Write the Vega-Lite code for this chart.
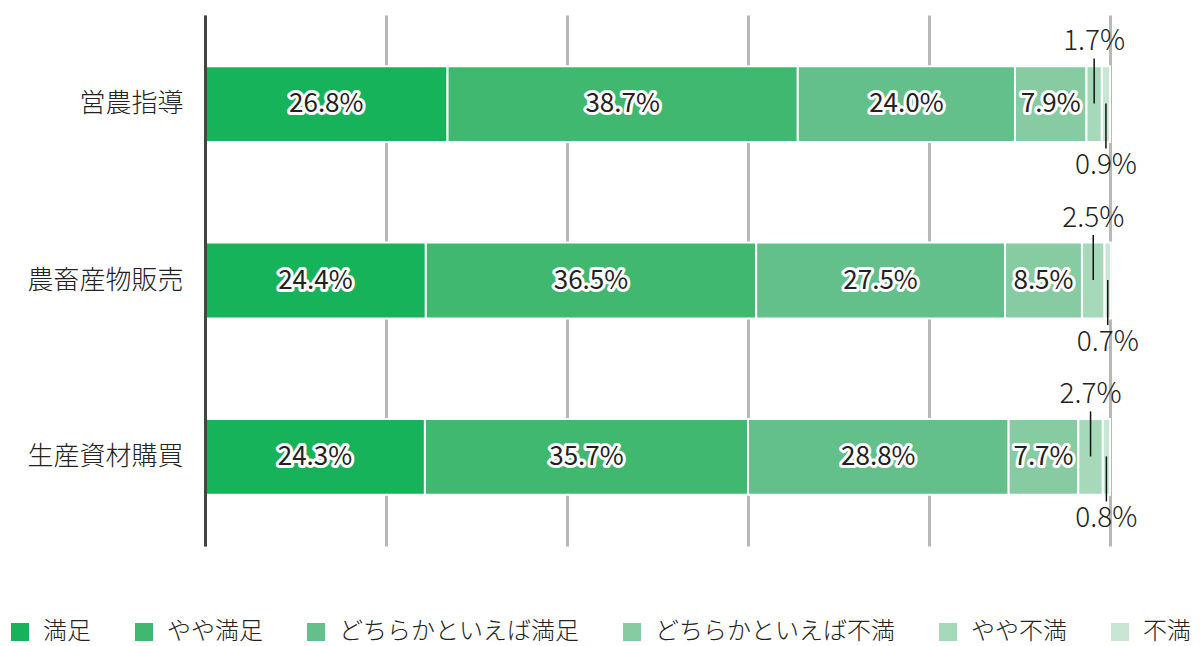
{
  "$schema": "https://vega.github.io/schema/vega-lite/v6.json",
  "autosize": {"type": "none"},
  "padding": {"left": 205, "top": 15, "right": 91, "bottom": 100},
  "width": 905,
  "height": 531,
  "background": "white",
  "config": {
    "view": {"stroke": null},
    "font": "Noto Sans CJK JP"
  },
  "data": {
    "values": [
      {"cat": "営農指導", "type": "満足", "k": 1, "value": 0.268},
      {"cat": "営農指導", "type": "やや満足", "k": 2, "value": 0.387},
      {"cat": "営農指導", "type": "どちらかといえば満足", "k": 3, "value": 0.240},
      {"cat": "営農指導", "type": "どちらかといえば不満", "k": 4, "value": 0.079},
      {"cat": "営農指導", "type": "やや不満", "k": 5, "value": 0.017},
      {"cat": "営農指導", "type": "不満", "k": 6, "value": 0.009},
      {"cat": "農畜産物販売", "type": "満足", "k": 1, "value": 0.244},
      {"cat": "農畜産物販売", "type": "やや満足", "k": 2, "value": 0.365},
      {"cat": "農畜産物販売", "type": "どちらかといえば満足", "k": 3, "value": 0.275},
      {"cat": "農畜産物販売", "type": "どちらかといえば不満", "k": 4, "value": 0.085},
      {"cat": "農畜産物販売", "type": "やや不満", "k": 5, "value": 0.025},
      {"cat": "農畜産物販売", "type": "不満", "k": 6, "value": 0.007},
      {"cat": "生産資材購買", "type": "満足", "k": 1, "value": 0.243},
      {"cat": "生産資材購買", "type": "やや満足", "k": 2, "value": 0.357},
      {"cat": "生産資材購買", "type": "どちらかといえば満足", "k": 3, "value": 0.288},
      {"cat": "生産資材購買", "type": "どちらかといえば不満", "k": 4, "value": 0.077},
      {"cat": "生産資材購買", "type": "やや不満", "k": 5, "value": 0.027},
      {"cat": "生産資材購買", "type": "不満", "k": 6, "value": 0.008}
    ]
  },
  "encoding": {
    "y": {
      "field": "cat",
      "type": "nominal",
      "sort": ["営農指導", "農畜産物販売", "生産資材購買"],
      "scale": {"paddingInner": 0.57, "paddingOuter": 0.29},
      "axis": {
        "title": null,
        "domainColor": "#444444",
        "domainWidth": 3,
        "ticks": false,
        "labelFontSize": 26,
        "labelFontWeight": 300,
        "labelColor": "#222222",
        "labelPadding": 22,
        "zindex": 1
      }
    },
    "order": {"field": "k", "type": "quantitative"}
  },
  "layer": [
    {
      "mark": {"type": "bar", "stroke": "white", "strokeWidth": 2},
      "encoding": {
        "x": {
          "field": "value",
          "type": "quantitative",
          "stack": "zero",
          "scale": {"domain": [0, 1], "nice": false},
          "axis": {
            "title": null,
            "labels": false,
            "ticks": false,
            "domain": false,
            "grid": true,
            "gridColor": "#b8b8b8",
            "gridWidth": 3,
            "values": [0, 0.2, 0.4, 0.6, 0.8, 1]
          }
        },
        "color": {
          "field": "type",
          "type": "nominal",
          "sort": ["満足", "やや満足", "どちらかといえば満足", "どちらかといえば不満", "やや不満", "不満"],
          "scale": {
            "domain": ["満足", "やや満足", "どちらかといえば満足", "どちらかといえば不満", "やや不満", "不満"],
            "range": ["#17b35b", "#41b870", "#63c08a", "#86cba2", "#a6d8ba", "#c8e6d4"]
          },
          "legend": {
            "title": null,
            "orient": "none",
            "direction": "horizontal",
            "legendX": -197,
            "legendY": 605,
            "symbolType": "square",
            "symbolSize": 324,
            "symbolStrokeWidth": 0,
            "symbolOpacity": 1,
            "labelFontSize": 24,
            "labelFontWeight": 300,
            "labelColor": "#222222",
            "labelOffset": 11,
            "columnPadding": 41,
            "labelLimit": 400
          }
        }
      }
    },
    {
      "mark": {"type": "text", "fontSize": 26, "stroke": "white", "strokeWidth": 6, "strokeJoin": "round", "fill": "white", "baseline": "middle", "align": "center"},
      "encoding": {
        "x": {"field": "value", "type": "quantitative", "stack": "zero", "bandPosition": 0.5},
        "detail": {"field": "type"},
        "text": {"condition": {"test": "datum.value >= 0.05", "field": "value", "type": "quantitative", "format": ".1%"}, "value": ""}
      }
    },
    {
      "mark": {"type": "text", "fontSize": 26, "fill": "#222222", "baseline": "middle", "align": "center"},
      "encoding": {
        "x": {"field": "value", "type": "quantitative", "stack": "zero", "bandPosition": 0.5},
        "detail": {"field": "type"},
        "text": {"condition": {"test": "datum.value >= 0.05", "field": "value", "type": "quantitative", "format": ".1%"}, "value": ""}
      }
    },
    {
      "mark": {"type": "tick", "orient": "vertical", "size": 45, "thickness": 1.5, "color": "#111111", "yOffset": -23},
      "encoding": {
        "x": {"field": "value", "type": "quantitative", "stack": "zero", "bandPosition": 0.5},
        "detail": {"field": "type"},
        "opacity": {"condition": {"test": "datum.type === 'やや不満'", "value": 1}, "value": 0}
      }
    },
    {
      "mark": {"type": "tick", "orient": "vertical", "size": 45, "thickness": 1.5, "color": "#111111", "yOffset": 22},
      "encoding": {
        "x": {"field": "value", "type": "quantitative", "stack": "zero", "bandPosition": 0.5},
        "detail": {"field": "type"},
        "opacity": {"condition": {"test": "datum.type === '不満'", "value": 1}, "value": 0}
      }
    },
    {
      "mark": {"type": "text", "fontSize": 28, "fontWeight": 300, "fill": "#222222", "baseline": "middle", "align": "center", "dy": -62},
      "encoding": {
        "x": {"field": "value", "type": "quantitative", "stack": "zero", "bandPosition": 0.5},
        "detail": {"field": "type"},
        "text": {"condition": {"test": "datum.type === 'やや不満'", "field": "value", "type": "quantitative", "format": ".1%"}, "value": ""}
      }
    },
    {
      "mark": {"type": "text", "fontSize": 28, "fontWeight": 300, "fill": "#222222", "baseline": "middle", "align": "center", "dy": 62},
      "encoding": {
        "x": {"field": "value", "type": "quantitative", "stack": "zero", "bandPosition": 0.5},
        "detail": {"field": "type"},
        "text": {"condition": {"test": "datum.type === '不満'", "field": "value", "type": "quantitative", "format": ".1%"}, "value": ""}
      }
    }
  ]
}
